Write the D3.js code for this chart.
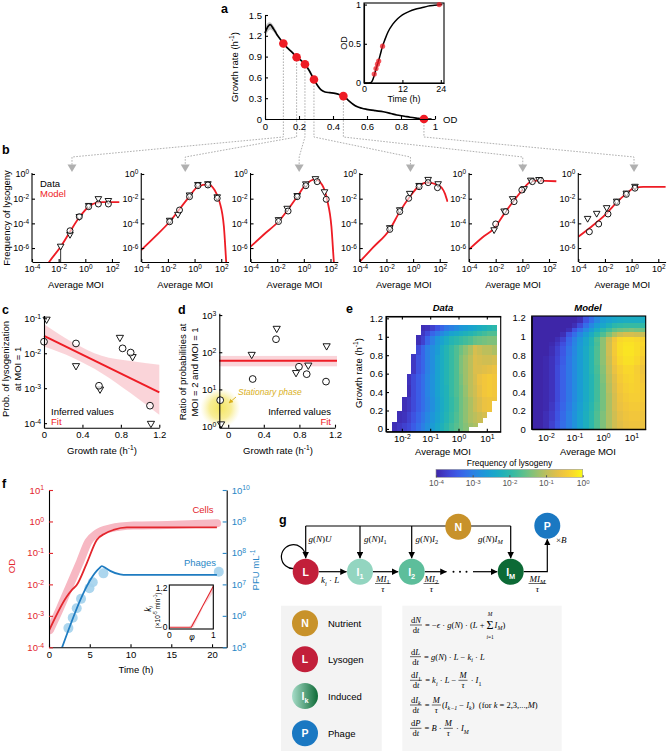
<!DOCTYPE html>
<html><head><meta charset="utf-8">
<script src="https://cdn.jsdelivr.net/npm/d3@7"></script>
<style>body{margin:0;background:#fff}svg{display:block}</style>
</head><body>
<svg id="fig" width="667" height="751"></svg>
<script>
// ================= DATA =================
// Panel a: growth rate vs OD
const aOD = [0.0,0.01,0.03,0.05,0.07,0.09,0.108,0.13,0.16,0.186,0.21,0.235,0.26,0.288,0.31,0.33,0.353,0.38,0.412,0.44,0.461,0.49,0.52,0.54,0.57,0.598,0.65,0.696,0.74,0.775,0.82,0.853,0.9,0.935,0.98];
const aGR = [1.24,1.30,1.36,1.30,1.22,1.15,1.09,1.03,0.96,0.89,0.85,0.79,0.70,0.57,0.48,0.42,0.39,0.38,0.37,0.35,0.33,0.27,0.21,0.18,0.155,0.14,0.12,0.105,0.08,0.058,0.04,0.025,0.01,0.0,0.0];
const aBandOD = [0,0.01,0.03,0.05,0.07];
const aBandHi = [1.31,1.38,1.41,1.35,1.26];
const aBandLo = [1.17,1.24,1.31,1.26,1.19];
const aPtOD = [0.108,0.186,0.235,0.288,0.461,0.935];
const aPtGR = [1.09,0.89,0.79,0.57,0.33,0.0];
const aXTicks = [0,0.2,0.4,0.6,0.8,1];
const aYTicks = [0,0.3,0.6,0.9,1.2,1.5];
// inset: OD vs time
const aInT  = [0,1,2,2.5,3,3.5,4,4.6,5.2,5.8,6.5,7.5,9,10.5,12,14,16,18,20,22,24.5];
const aInOD = [0,0,0.003,0.02,0.07,0.14,0.21,0.29,0.38,0.47,0.55,0.65,0.75,0.82,0.87,0.91,0.94,0.96,0.98,0.99,1.0];
const aInPtT  = [3.2,3.75,4.2,4.6,5.8,23.5];
const aInPtOD = [0.115,0.185,0.24,0.28,0.47,1.0];

// Panel b: log10(MOI) and log10(frequency of lysogeny), six growth phases
const bModelX = [
  [-2.9,-2.7,-1.85,-1.15,-0.45,0.25,0.85,1.3,2.55],
  [-4,-3,-1.87,-0.5,0.25,1.0,1.5,1.87,2.2,2.37,2.45],
  [-4,-3,-1.87,-1.12,-0.5,0.12,0.87,1.38,1.75,2.07,2.25,2.35],
  [-4,-3,-1.75,-1.0,-0.25,0.38,1.0,1.88,2.38,2.58],
  [-4,-3,-2.12,-1.25,-0.5,0.0,0.63,1.13,2.55],
  [-4,-3.12,-1.87,-1.12,-0.37,0.25,0.875,2.55]
];
const bModelY = [
  [-7.45,-7.11,-5.89,-4.68,-3.51,-2.65,-2.32,-2.28,-2.28],
  [-6.16,-5.12,-3.87,-1.97,-1.03,-0.84,-1.30,-2.24,-4.27,-7.1,-8.5],
  [-5.89,-4.9,-3.81,-2.78,-1.84,-0.89,-0.43,-0.89,-2.1,-4.27,-7.1,-8.5],
  [-7.11,-5.95,-4.49,-3.05,-1.84,-1.03,-0.70,-0.89,-1.57,-2.24],
  [-6.11,-5.15,-4.41,-3.05,-1.97,-1.30,-0.62,-0.54,-0.59],
  [-5.08,-4.35,-3.19,-2.30,-1.57,-1.11,-1.05,-1.05]
];
const bCircX = [
  [-1.15,-0.45,0.25,0.98,1.73],
  [-1.87,-1.13,-0.38,0.25,1.0,1.7],
  [-1.9,-1.18,-0.5,0.15,1.0,1.68],
  [-1.75,-1.0,-0.33,0.45,1.13,1.83],
  [-2.0,-1.25,-0.62,-0.04,0.75,1.38],
  [-3.17,-2.47,-1.77,-1.12,-0.4,0.25]
];
const bCircY = [
  [-4.6,-3.46,-2.65,-2.43,-2.43],
  [-3.87,-2.92,-1.84,-0.95,-0.89,-1.97],
  [-3.85,-3.0,-1.84,-0.95,-0.62,-2.05],
  [-4.49,-3.05,-1.97,-1.03,-0.70,-1.11],
  [-4.05,-3.05,-2.24,-1.30,-0.62,-0.54],
  [-4.68,-4.05,-3.24,-2.30,-1.65,-1.15]
];
const bTriX = [
  [-1.85,-1.15,-0.45,0.25,0.98,1.73],
  [-1.87,-1.25,-0.38,0.25,1.0,1.7],
  [-1.9,-1.25,-0.5,0.15,0.87,1.55],
  [-1.75,-1.0,-0.25,0.45,1.13,1.88],
  [-2.12,-1.37,-0.73,0.13,0.63,1.25],
  [-3.3,-2.62,-1.87,-1.12,-0.4,0.25]
];
const bTriY = [
  [-5.9,-4.95,-3.5,-2.6,-2.05,-2.2],
  [-3.8,-3.32,-1.75,-0.9,-0.84,-1.9],
  [-3.75,-2.83,-1.8,-0.85,-0.43,-1.49],
  [-4.4,-2.95,-1.62,-0.98,-0.49,-0.84],
  [-4.57,-3.05,-2.05,-1.24,-0.55,-0.5],
  [-3.65,-3.24,-2.78,-2.25,-1.6,-1.05]
];
const bErrX = [-1.85], bErrLo = [-7.3], bErrHi = [-5.7]; // subplot 1 error bar
const bArrowMOI = [-1.0,-0.7,-0.35,-0.2,0.03,0.18];
const bXTicks = [-4,-2,0,2];
const bYTicks = [0,-2,-4,-6];

// Panel c
const cCircGR = [0,0.333,0.572,0.818,0.902,1.103];
const cCircP  = [-1.67,-1.72,-2.93,-1.86,-1.98,-3.50];
const cTriGR  = [0.027,0.333,0.583,0.79,0.922,1.113];
const cTriP   = [-1.05,-2.38,-3.05,-1.57,-2.12,-4.03];
const cFitGR  = [0,1.2];
const cFitP   = [-1.50,-3.12];
const cBandGR = [0,0.3,0.6,0.9,1.2];
const cBandHi = [-1.17,-1.69,-2.07,-2.22,-2.33];
const cBandLo = [-1.81,-2.13,-2.57,-3.14,-3.76];

// Panel d
const dCircGR = [-0.09,0.275,0.537,0.795,0.882,1.099];
const dCircR  = [0.71,1.28,2.35,1.61,1.41,1.21];
const dTriGR  = [-0.08,0.264,0.545,0.762,0.90,1.106];
const dTriR   = [0.05,1.92,2.62,1.43,1.63,2.15];
const dFit = 1.77, dFitLo = 1.62, dFitHi = 1.90;

// Panel e: data heatmap (log10 frequency), rows by growth-rate bands, columns 1/6 decade from MOI 10^-2.5
const eDataRowEdges = [-0.03,0.03,0.07,0.12,0.19,0.31,0.35,0.48,0.60,0.70,0.81,0.92,1.02,1.07,1.13];
const eDataRowStart = [1,1,2,2,3,3,4,4,5,5,6,6,7,7];
const eDataRows = [
  [-3.9,-3.8,-3.7,-3.6,-3.4,-3.2,-3.0,-2.8,-2.6,-2.4,-2.2,-2.0,-1.8,-1.65,-1.5,-1.35],
  [-3.9,-3.8,-3.7,-3.6,-3.4,-3.2,-3.0,-2.8,-2.6,-2.4,-2.2,-2.0,-1.8,-1.65,-1.5,-1.35,-1.2,-1.1],
  [-3.9,-3.85,-3.7,-3.5,-3.3,-3.1,-2.9,-2.7,-2.5,-2.3,-2.1,-1.9,-1.7,-1.5,-1.3,-1.1,-1.0,-0.9],
  [-3.9,-3.85,-3.7,-3.5,-3.3,-3.1,-2.9,-2.7,-2.5,-2.3,-2.1,-1.9,-1.7,-1.5,-1.3,-1.1,-1.0,-0.9,-0.8],
  [-3.9,-3.8,-3.6,-3.4,-3.2,-3.0,-2.8,-2.55,-2.35,-2.15,-1.95,-1.75,-1.5,-1.3,-1.1,-0.9,-0.75,-0.6,-0.55],
  [-3.9,-3.8,-3.6,-3.4,-3.2,-3.0,-2.8,-2.55,-2.35,-2.15,-1.95,-1.75,-1.5,-1.3,-1.1,-0.9,-0.75,-0.6,-0.55,-0.55],
  [-3.9,-3.6,-3.4,-3.2,-2.95,-2.75,-2.5,-2.3,-2.15,-1.9,-1.7,-1.5,-1.25,-1.0,-0.85,-0.65,-0.5,-0.45,-0.5],
  [-3.85,-3.6,-3.4,-3.2,-2.95,-2.75,-2.5,-2.3,-2.1,-1.9,-1.7,-1.45,-1.2,-1.0,-0.8,-0.6,-0.5,-0.45,-0.5],
  [-3.8,-3.5,-3.3,-3.0,-2.8,-2.5,-2.3,-2.1,-1.9,-1.7,-1.4,-1.2,-1.0,-0.75,-0.75,-0.7,-0.65,-0.6],
  [-3.8,-3.5,-3.3,-3.0,-2.8,-2.5,-2.3,-2.1,-1.9,-1.7,-1.4,-1.2,-1.0,-0.75,-0.8,-0.85,-0.85,-0.8],
  [-3.6,-3.3,-3.0,-2.8,-2.6,-2.3,-2.1,-1.9,-1.7,-1.5,-1.3,-1.1,-0.8,-0.9,-1.0,-1.0,-1.1],
  [-3.9,-3.7,-3.3,-3.0,-2.7,-2.5,-2.3,-2.1,-2.0,-1.9,-1.8,-1.7,-1.55,-1.5,-1.45,-1.4,-1.4],
  [-3.8,-3.6,-3.3,-3.1,-2.9,-2.7,-2.5,-2.4,-2.3,-2.2,-2.1,-2.0,-1.9,-1.8,-1.7,-1.7],
  [-3.9,-3.85,-3.7,-3.5,-3.3,-3.1,-3.0,-2.85,-2.7,-2.6,-2.5,-2.4,-2.3,-2.2,-2.1,-2.0]
];
// model heatmap: columns 0.2 decade from 10^-2.5 to 10^1.5
const eModelRowEdges = [0,0.1,0.2,0.3,0.4,0.5,0.6,0.7,0.8,0.9,0.95,1.0,1.05,1.1,1.15,1.22];
const eModelRows = [
  [-4,-4,-3.9,-3.7,-3.45,-3.2,-3.0,-2.75,-2.5,-2.25,-2.0,-1.7,-1.4,-1.1,-0.85,-0.7,-0.6,-0.55,-0.55,-0.6],
  [-4,-4,-3.9,-3.75,-3.5,-3.25,-3.0,-2.75,-2.5,-2.25,-2.0,-1.7,-1.4,-1.1,-0.85,-0.65,-0.55,-0.5,-0.5,-0.55],
  [-4,-4,-3.95,-3.8,-3.55,-3.3,-3.05,-2.8,-2.55,-2.3,-2.05,-1.75,-1.45,-1.1,-0.8,-0.6,-0.5,-0.45,-0.45,-0.5],
  [-4,-4,-3.95,-3.85,-3.6,-3.35,-3.1,-2.85,-2.6,-2.35,-2.1,-1.8,-1.45,-1.1,-0.8,-0.55,-0.45,-0.4,-0.4,-0.45],
  [-4,-4,-3.95,-3.85,-3.6,-3.35,-3.1,-2.85,-2.6,-2.35,-2.1,-1.8,-1.45,-1.05,-0.75,-0.5,-0.4,-0.35,-0.38,-0.45],
  [-4,-4,-3.95,-3.85,-3.6,-3.35,-3.1,-2.85,-2.6,-2.35,-2.1,-1.8,-1.4,-1.0,-0.7,-0.45,-0.35,-0.32,-0.38,-0.5],
  [-4,-4,-3.95,-3.85,-3.6,-3.35,-3.1,-2.85,-2.6,-2.35,-2.05,-1.75,-1.35,-0.95,-0.6,-0.4,-0.3,-0.3,-0.4,-0.55],
  [-4,-4,-3.95,-3.85,-3.65,-3.4,-3.1,-2.85,-2.6,-2.35,-2.05,-1.7,-1.3,-0.9,-0.5,-0.3,-0.22,-0.22,-0.3,-0.45],
  [-4,-4,-4,-3.9,-3.7,-3.45,-3.15,-2.9,-2.6,-2.35,-2.05,-1.7,-1.3,-0.85,-0.45,-0.25,-0.18,-0.18,-0.25,-0.35],
  [-4,-4,-4,-3.95,-3.8,-3.55,-3.25,-2.95,-2.65,-2.4,-2.1,-1.75,-1.3,-0.85,-0.45,-0.25,-0.2,-0.2,-0.25,-0.3],
  [-4,-4,-4,-4,-3.9,-3.7,-3.3,-3.0,-2.7,-2.4,-2.1,-1.7,-1.3,-0.9,-0.5,-0.3,-0.25,-0.25,-0.3,-0.35],
  [-4,-4,-4,-4,-4,-3.9,-3.5,-3.2,-2.9,-2.6,-2.3,-2.0,-1.7,-1.4,-1.1,-0.9,-0.8,-0.8,-0.85,-0.9],
  [-4,-4,-4,-4,-4,-4,-3.9,-3.5,-3.2,-2.9,-2.6,-2.3,-2.0,-1.8,-1.6,-1.5,-1.45,-1.4,-1.45,-1.5],
  [-4,-4,-4,-4,-4,-4,-4,-3.9,-3.6,-3.2,-2.9,-2.6,-2.4,-2.2,-2.0,-1.95,-1.9,-1.9,-1.9,-1.95],
  [-4,-4,-4,-4,-4,-4,-4,-4,-3.9,-3.5,-3.2,-2.9,-2.6,-2.5,-2.4,-2.35,-2.3,-2.3,-2.3,-2.3]
];
const eXTicks = [-2,-1,0,1];
const eYTicks = [0,0.2,0.4,0.6,0.8,1,1.2];
const eCbTicks = [-4,-3,-2,-1,0];

// Panel f
const fCellDataT = [0.12,1.35,2.58,3.81,4.84,5.86,7.5,10.37,14.47,20.62];
const fCellDataOD = [-3.45,-2.76,-2.02,-1.28,-0.64,-0.38,-0.22,-0.13,-0.11,-0.06];
const fCellModelT = [0,2.17,2.79,3.4,4.63,5.86,6.89,7.9,9.55,20.6];
const fCellModelOD = [-3.47,-2.39,-2.18,-2.02,-1.33,-0.59,-0.38,-0.27,-0.19,-0.19];
const fPhageDataT = [2.38,2.91,3.4,3.93,4.96,5.37,6.68,20.83];
const fPhageDataP = [5.61,5.94,6.24,6.54,6.88,7.07,7.35,7.40];
const fPhageModelT = [1.5,6.15,6.48,7.0,7.5,8.73,9.55,20.6];
const fPhageModelP = [4.92,7.51,7.58,7.51,7.43,7.32,7.30,7.30];
const fInPhi = [0,0.5,1];
const fInK = [0,0,1.2];
const fInBandPhi = [0.45,1,1,0.55];
const fInBandK = [0,1.02,1.2,0];

// ================= HELPERS =================
const svg = d3.select('#fig');
const FONT = '"Liberation Sans", Arial, Helvetica, sans-serif';
const SERIF = '"Liberation Serif","Times New Roman",serif';
const RED = '#ee1c25';
svg.append('rect').attr('width',667).attr('height',751).attr('fill','#fff');
const defs = svg.append('defs');

function rtext(parent, x, y, segs, o = {}) {
  const size = o.size || 9.5;
  const t = parent.append('text').attr('font-size', size).attr('font-family', o.family || FONT)
    .attr('text-anchor', o.anchor || 'start').attr('fill', o.fill || '#000').style('white-space','pre');
  if (o.rotate) t.attr('transform', `translate(${x},${y}) rotate(${o.rotate})`); else t.attr('x', x).attr('y', y);
  if (o.weight) t.attr('font-weight', o.weight);
  if (o.style) t.attr('font-style', o.style);
  if (typeof segs === 'string') segs = [[segs, 'n']];
  let shift = 0;
  segs.forEach(([s, st]) => {
    const sp = t.append('tspan').text(s);
    let target = 0, fs = null;
    if (st.indexOf('sub') === 0) { target = 0.28 * size; fs = 0.7 * size; }
    else if (st.indexOf('sup') === 0) { target = -0.42 * size; fs = 0.7 * size; }
    if (target - shift !== 0) sp.attr('dy', target - shift);
    shift = target;
    if (fs) sp.attr('font-size', fs);
    if (st === 'i' || st === 'subi' || st === 'supi') sp.attr('font-style', 'italic');
    if (st === 'b' || st === 'subb') sp.attr('font-weight', 'bold');
  });
  return t;
}
function logLabels(g) {
  g.selectAll('.tick text').each(function (d) {
    const t = d3.select(this); t.text(null);
    t.append('tspan').text('10');
    t.append('tspan').attr('dy', '-0.45em').attr('font-size', '0.72em').text(String(d));
  });
}
function styleAxis(g, color, fs) {
  g.attr('font-family', FONT).attr('font-size', fs || 9.5);
  g.select('.domain').attr('stroke', '#000').attr('stroke-width', 1.1);
  g.selectAll('.tick line').attr('stroke', color || '#000').attr('stroke-width', 1.1);
  g.selectAll('.tick text').attr('fill', color || '#000');
}
function triPath(x, y, s) { // downward triangle
  return `M${x - s},${y - s * 0.8}L${x + s},${y - s * 0.8}L${x},${y + s * 0.95}Z`;
}
function label(x, y, s) { rtext(svg, x, y, s, { size: 12.5, weight: 'bold' }); }
const numFmt = d => d === 0 ? '0' : (Number.isInteger(d) ? String(d) : String(d));

// parula-like colour map
const parula = d3.interpolateRgbBasis(['#3e26a8','#4352ee','#2a82e6','#14a4d2','#22b9ab','#6cc383','#c0bf5a','#fcbb3d','#f9fb14']);
const pcol = v => parula(Math.max(0, Math.min(1, (v + 4) / 4)));

// ================= PANEL a =================
label(221, 13, 'a');
const aX = d3.scaleLinear().domain([0, 1]).range([265, 435]);
const aY = d3.scaleLinear().domain([0, 1.5]).range([119, 15]);
svg.append('path').datum(aBandOD.map((d, i) => i))
  .attr('d', d3.area().x(i => aX(aBandOD[i])).y0(i => aY(aBandLo[i])).y1(i => aY(aBandHi[i])).curve(d3.curveBasis))
  .attr('fill', '#b5b5b5').attr('opacity', 0.8);
const bAxisX = d3.range(6).map(i => 32 + i * 109.26);
const bXs = bAxisX.map(x0 => d3.scaleLinear().domain([-4, 2.55]).range([x0, x0 + 87.3]));
const conn = svg.append('g').attr('fill', 'none').attr('stroke', '#a6a6a6').attr('stroke-width', 0.9).attr('stroke-dasharray', '1.6,1.4');
aPtOD.forEach((od, i) => {
  const x0 = aX(od), y0 = aY(aPtGR[i]);
  const ax = bXs[i](bArrowMOI[i]);
  conn.append('path').attr('d', `M${x0},${y0}V137L${ax},157V165`);
  svg.append('path').attr('d', `M${ax - 4.5},164.5L${ax + 4.5},164.5L${ax},172Z`).attr('fill', '#b0b0b0');
});
svg.append('path').datum(aOD.map((d, i) => i))
  .attr('d', d3.line().x(i => aX(aOD[i])).y(i => aY(aGR[i])).curve(d3.curveMonotoneX))
  .attr('fill', 'none').attr('stroke', '#000').attr('stroke-width', 1.7);
svg.selectAll('.aPt').data(aPtOD).enter().append('circle')
  .attr('cx', d => aX(d)).attr('cy', (d, i) => aY(aPtGR[i])).attr('r', 4.3).attr('fill', RED);
{
  const gx = svg.append('g').attr('transform', 'translate(0,119)')
    .call(d3.axisBottom(aX).tickValues(aXTicks).tickSize(-3).tickSizeOuter(0).tickPadding(4).tickFormat(numFmt));
  styleAxis(gx);
  const gy = svg.append('g').attr('transform', 'translate(265,0)')
    .call(d3.axisLeft(aY).tickValues(aYTicks).tickSize(-3).tickSizeOuter(0).tickPadding(3)
      .tickFormat(d => d === 0 ? '0' : d.toFixed(1)));
  styleAxis(gy);
  rtext(svg, 443, 122.5, 'OD', { size: 9.5 });
  rtext(svg, 238, 67, [['Growth rate (h', 'n'], ['-1', 'sup'], [')', 'n']], { rotate: -90, anchor: 'middle' });
}
{
  const iX = d3.scaleLinear().domain([0, 25]).range([364, 444]);
  const iY = d3.scaleLinear().domain([0, 1.02]).range([83, 3]);
  svg.append('rect').attr('x', 364).attr('y', 3).attr('width', 80).attr('height', 80)
    .attr('fill', 'none').attr('stroke', '#000').attr('stroke-width', 1.1);
  svg.append('path').datum(aInT.map((d, i) => i))
    .attr('d', d3.line().x(i => iX(aInT[i])).y(i => iY(aInOD[i])).curve(d3.curveMonotoneX))
    .attr('fill', 'none').attr('stroke', '#000').attr('stroke-width', 1.5);
  svg.selectAll('.iPt').data(aInPtT).enter().append('circle')
    .attr('cx', d => iX(d)).attr('cy', (d, i) => iY(aInPtOD[i])).attr('r', 2.6)
    .attr('fill', RED).attr('opacity', 0.75);
  const gx = svg.append('g').attr('transform', 'translate(0,83)')
    .call(d3.axisBottom(iX).tickValues([0, 12, 24]).tickSize(-3).tickSizeOuter(0).tickPadding(3).tickFormat(numFmt));
  styleAxis(gx, '#000', 9);
  const gy = svg.append('g').attr('transform', 'translate(364,0)')
    .call(d3.axisLeft(iY).tickValues([0, 0.5, 1]).tickSize(-3).tickSizeOuter(0).tickPadding(3).tickFormat(numFmt));
  styleAxis(gy, '#000', 9);
  rtext(svg, 404, 102, 'Time (h)', { anchor: 'middle', size: 9 });
  rtext(svg, 347, 43, 'OD', { rotate: -90, anchor: 'middle', size: 9 });
}

// ================= PANEL b =================
label(2, 154, 'b');
const bY = d3.scaleLinear().domain([-7.13, 0.08]).range([262, 173]);
rtext(svg, 10, 218, 'Frequency of lysogeny', { rotate: -90, anchor: 'middle' });
for (let i = 0; i < 6; i++) {
  const xs = bXs[i], x0 = bAxisX[i];
  const cid = 'bclip' + i;
  defs.append('clipPath').attr('id', cid).append('rect').attr('x', x0).attr('y', 168).attr('width', 88.5).attr('height', 94);
  const g = svg.append('g');
  g.append('path').datum(bModelX[i].map((d, k) => k)).attr('clip-path', `url(#${cid})`)
    .attr('d', d3.line().x(k => xs(bModelX[i][k])).y(k => bY(bModelY[i][k])).curve(d3.curveMonotoneX))
    .attr('fill', 'none').attr('stroke', RED).attr('stroke-width', 1.8);
  if (i === 0) {
    bErrX.forEach((x, k) => g.append('line').attr('x1', xs(x)).attr('x2', xs(x))
      .attr('y1', bY(bErrHi[k])).attr('y2', Math.min(262, bY(bErrLo[k]))).attr('stroke', '#000').attr('stroke-width', 0.8));
  }
  bTriX[i].forEach((x, k) => g.append('path').attr('d', triPath(xs(x), bY(bTriY[i][k]), 3.3))
    .attr('fill', '#fff').attr('stroke', '#000').attr('stroke-width', 0.9));
  bCircX[i].forEach((x, k) => g.append('circle').attr('cx', xs(x)).attr('cy', bY(bCircY[i][k])).attr('r', 3)
    .attr('fill', '#fff').attr('fill-opacity', 0.6).attr('stroke', '#000').attr('stroke-width', 0.9));
  const gx = svg.append('g').attr('transform', 'translate(0,262)')
    .call(d3.axisBottom(xs).tickValues(bXTicks).tickSize(-3).tickSizeOuter(0).tickPadding(4));
  styleAxis(gx, '#000', 9); logLabels(gx);
  const gy = svg.append('g').attr('transform', `translate(${x0},0)`)
    .call(d3.axisLeft(bY).tickValues(bYTicks).tickSize(-3).tickSizeOuter(0).tickPadding(3));
  styleAxis(gy, '#000', 9); logLabels(gy);
  gy.select('.domain').attr('d', `M0,${bY.range()[1]}V262`);
  rtext(svg, x0 + 44, 288, 'Average MOI', { anchor: 'middle' });
}
rtext(svg, 40, 186.5, 'Data', { size: 9.5 });
rtext(svg, 40, 197, 'Model', { size: 9.5, fill: RED });

// ================= PANEL c =================
label(2, 314, 'c');
{
  const cX = d3.scaleLinear().domain([0, 1.2]).range([44, 159.3]);
  const cY = d3.scaleLinear().domain([-4.13, -0.92]).range([427.7, 315.5]);
  svg.append('path').datum(cBandGR.map((d, i) => i))
    .attr('d', d3.area().x(i => cX(cBandGR[i])).y0(i => cY(cBandLo[i])).y1(i => cY(cBandHi[i])).curve(d3.curveMonotoneX))
    .attr('fill', '#f9cdd2').attr('opacity', 0.85);
  svg.append('line').attr('x1', cX(cFitGR[0])).attr('x2', cX(cFitGR[1])).attr('y1', cY(cFitP[0])).attr('y2', cY(cFitP[1]))
    .attr('stroke', RED).attr('stroke-width', 2);
  cTriGR.forEach((x, k) => svg.append('path').attr('d', triPath(cX(x), cY(cTriP[k]), 3.6))
    .attr('fill', '#fff').attr('stroke', '#000').attr('stroke-width', 0.9));
  cCircGR.forEach((x, k) => svg.append('circle').attr('cx', cX(x)).attr('cy', cY(cCircP[k])).attr('r', 3.4)
    .attr('fill', '#fff').attr('fill-opacity', 0.7).attr('stroke', '#000').attr('stroke-width', 0.9));
  const gx = svg.append('g').attr('transform', 'translate(0,427.7)')
    .call(d3.axisBottom(cX).tickValues([0, 0.4, 0.8, 1.2]).tickSize(-3).tickSizeOuter(0).tickPadding(4)
      .tickFormat(d => d === 0 ? '0' : d.toFixed(1)));
  styleAxis(gx);
  const gy = svg.append('g').attr('transform', 'translate(44,0)')
    .call(d3.axisLeft(cY).tickValues([-1, -2, -3, -4]).tickSize(-3).tickSizeOuter(0).tickPadding(3));
  styleAxis(gy); logLabels(gy);
  rtext(svg, 102, 454, [['Growth rate (h', 'n'], ['-1', 'sup'], [')', 'n']], { anchor: 'middle' });
  rtext(svg, 9, 369, 'Prob. of lysogenization', { rotate: -90, anchor: 'middle' });
  rtext(svg, 20.5, 369, 'at MOI = 1', { rotate: -90, anchor: 'middle' });
  rtext(svg, 51, 414.5, 'Inferred values', { size: 9.5 });
  rtext(svg, 51, 425, 'Fit', { size: 9.5, fill: RED });
}

// ================= PANEL d =================
label(178, 314, 'd');
{
  const dX = d3.scaleLinear().domain([-0.1, 1.2]).range([219.3, 335]);
  const dY = d3.scaleLinear().domain([-0.03, 3.05]).range([427.7, 313.2]);
  const rg = defs.append('radialGradient').attr('id', 'glow');
  rg.append('stop').attr('offset', '0%').attr('stop-color', '#f3e34f').attr('stop-opacity', 0.9);
  rg.append('stop').attr('offset', '55%').attr('stop-color', '#f5e66a').attr('stop-opacity', 0.7);
  rg.append('stop').attr('offset', '100%').attr('stop-color', '#f8ee9a').attr('stop-opacity', 0);
  svg.append('circle').attr('cx', dX(-0.1) + 1).attr('cy', dY(0.5)).attr('r', 20).attr('fill', 'url(#glow)');
  svg.append('rect').attr('x', dX(-0.1)).attr('y', dY(dFitHi)).attr('width', dX(1.2) - dX(-0.1) + 2)
    .attr('height', dY(dFitLo) - dY(dFitHi)).attr('fill', '#f9cdd2').attr('opacity', 0.85);
  svg.append('line').attr('x1', dX(-0.1)).attr('x2', dX(1.2) + 2).attr('y1', dY(dFit)).attr('y2', dY(dFit))
    .attr('stroke', RED).attr('stroke-width', 2);
  dTriGR.forEach((x, k) => svg.append('path').attr('d', triPath(dX(x), dY(dTriR[k]), 3.6))
    .attr('fill', '#fff').attr('stroke', '#000').attr('stroke-width', 0.9));
  dCircGR.forEach((x, k) => svg.append('circle').attr('cx', dX(x)).attr('cy', dY(dCircR[k])).attr('r', 3.4)
    .attr('fill', '#fff').attr('stroke', '#000').attr('stroke-width', 0.9));
  const gx = svg.append('g').attr('transform', 'translate(0,427.7)')
    .call(d3.axisBottom(dX).tickValues([0, 0.4, 0.8, 1.2]).tickSize(-3).tickSizeOuter(0).tickPadding(4)
      .tickFormat(d => d === 0 ? '0' : d.toFixed(1)));
  styleAxis(gx);
  const gy = svg.append('g').attr('transform', `translate(${dX(-0.1)},0)`)
    .call(d3.axisLeft(dY).tickValues([0, 1, 2, 3]).tickSize(-3).tickSizeOuter(0).tickPadding(3));
  styleAxis(gy); logLabels(gy);
  rtext(svg, 278, 454, [['Growth rate (h', 'n'], ['-1', 'sup'], [')', 'n']], { anchor: 'middle' });
  rtext(svg, 186, 372, 'Ratio of probabilities at', { rotate: -90, anchor: 'middle' });
  rtext(svg, 197.5, 372, 'MOI = 2 and MOI = 1', { rotate: -90, anchor: 'middle' });
  rtext(svg, 331, 414.5, 'Inferred values', { size: 9.5, anchor: 'end' });
  rtext(svg, 331, 425, 'Fit', { size: 9.5, fill: RED, anchor: 'end' });
  rtext(svg, 238, 395, 'Stationary phase', { size: 8.5, style: 'italic', fill: '#d9b01c' });
  defs.append('marker').attr('id', 'yarr').attr('viewBox', '0 0 10 10').attr('refX', 9).attr('refY', 5)
    .attr('markerWidth', 5).attr('markerHeight', 5).attr('orient', 'auto')
    .append('path').attr('d', 'M0,0L10,5L0,10Z').attr('fill', '#d9b01c');
  svg.append('line').attr('x1', 236).attr('y1', 397).attr('x2', 229).attr('y2', 403)
    .attr('stroke', '#d9b01c').attr('stroke-width', 0.9).attr('marker-end', 'url(#yarr)');
}

// ================= PANEL e =================
rtext(svg, 346, 313, 'e', { size: 12.5, weight: 'bold' });
{
  const dX = d3.scaleLinear().domain([-2.56, 1.49]).range([386, 500.7]);
  const dY = d3.scaleLinear().domain([-0.03, 1.22]).range([431.7, 316.5]);
  const hg = svg.append('g').attr('shape-rendering', 'crispEdges');
  eDataRows.forEach((row, r) => {
    const y1 = dY(eDataRowEdges[r + 1]), y0 = dY(eDataRowEdges[r]);
    row.forEach((v, k) => {
      const c = eDataRowStart[r] + k;
      const xa = dX(-2.5 + c / 6), xb = dX(-2.5 + (c + 1) / 6);
      hg.append('rect').attr('x', xa).attr('y', y1).attr('width', xb - xa + 0.6).attr('height', y0 - y1 + 0.6).attr('fill', pcol(v));
    });
  });
  svg.append('rect').attr('x', 386).attr('y', 316.5).attr('width', 114.7).attr('height', 115.2)
    .attr('fill', 'none').attr('stroke', '#000').attr('stroke-width', 1.1);
  const gx = svg.append('g').attr('transform', 'translate(0,431.7)')
    .call(d3.axisBottom(dX).tickValues(eXTicks).tickSize(-3).tickSizeOuter(0).tickPadding(4));
  styleAxis(gx); logLabels(gx);
  const gxt = svg.append('g').attr('transform', 'translate(0,316.5)')
    .call(d3.axisTop(dX).tickValues(eXTicks).tickSize(-3).tickSizeOuter(0).tickFormat(''));
  styleAxis(gxt);
  const gy = svg.append('g').attr('transform', 'translate(386,0)')
    .call(d3.axisLeft(dY).tickValues(eYTicks).tickSize(-3).tickSizeOuter(0).tickPadding(3).tickFormat(d => d === 0 ? '0' : d === 1 ? '1' : d.toFixed(1)));
  styleAxis(gy);
  rtext(svg, 443, 455, 'Average MOI', { anchor: 'middle' });
  rtext(svg, 443, 311, 'Data', { anchor: 'middle', weight: 'bold', style: 'italic', size: 9.5 });
  rtext(svg, 362, 373, [['Growth rate (h', 'n'], ['-1', 'sup'], [')', 'n']], { rotate: -90, anchor: 'middle' });

  const mX = d3.scaleLinear().domain([-2.5, 1.5]).range([531.7, 645.7]);
  const mY = d3.scaleLinear().domain([0, 1.22]).range([429.3, 316]);
  const mg = svg.append('g').attr('shape-rendering', 'crispEdges');
  eModelRows.forEach((row, r) => {
    const y1 = mY(eModelRowEdges[r + 1]), y0 = mY(eModelRowEdges[r]);
    row.forEach((v, c) => {
      const xa = mX(-2.5 + c * 0.2), xb = mX(-2.5 + (c + 1) * 0.2);
      mg.append('rect').attr('x', xa).attr('y', y1).attr('width', xb - xa + 0.6).attr('height', y0 - y1 + 0.6).attr('fill', pcol(v));
    });
  });
  svg.append('rect').attr('x', 531.7).attr('y', 316).attr('width', 114).attr('height', 113.3)
    .attr('fill', 'none').attr('stroke', '#000').attr('stroke-width', 1.1);
  const mgx = svg.append('g').attr('transform', 'translate(0,429.3)')
    .call(d3.axisBottom(mX).tickValues(eXTicks).tickSize(0).tickSizeOuter(0).tickPadding(5));
  styleAxis(mgx); logLabels(mgx);
  const mgy = svg.append('g').attr('transform', 'translate(531.7,0)')
    .call(d3.axisLeft(mY).tickValues(eYTicks).tickSize(0).tickSizeOuter(0).tickPadding(6).tickFormat(d => d === 0 ? '0' : d === 1 ? '1' : d.toFixed(1)));
  styleAxis(mgy);
  rtext(svg, 588, 455, 'Average MOI', { anchor: 'middle' });
  rtext(svg, 588, 311, 'Model', { anchor: 'middle', weight: 'bold', style: 'italic', size: 9.5 });

  const lg = defs.append('linearGradient').attr('id', 'cbar');
  d3.range(0, 1.0001, 0.05).forEach(t => lg.append('stop').attr('offset', (t * 100) + '%').attr('stop-color', parula(t)));
  const cbX = d3.scaleLinear().domain([-4, 0]).range([436, 582.7]);
  svg.append('rect').attr('x', 436).attr('y', 469.3).attr('width', 146.7).attr('height', 8)
    .attr('fill', 'url(#cbar)').attr('stroke', '#999').attr('stroke-width', 0.6);
  const cbg = svg.append('g').attr('transform', 'translate(0,477.3)')
    .call(d3.axisBottom(cbX).tickValues(eCbTicks).tickSize(-2).tickSizeOuter(0).tickPadding(3));
  styleAxis(cbg, '#555', 8.5); logLabels(cbg);
  cbg.select('.domain').remove();
  rtext(svg, 509.5, 466, 'Frequency of lysogeny', { anchor: 'middle', size: 8.5 });
}

// ================= PANEL f =================
label(2, 488, 'f');
{
  const fX = d3.scaleLinear().domain([0, 21.8]).range([49, 226.7]);
  const fY = d3.scaleLinear().domain([-4, 1]).range([647.3, 490]);
  const fP = d3.scaleLinear().domain([5, 10]).range([647.3, 490]);
  defs.append('clipPath').attr('id', 'fclip').append('rect').attr('x', 49).attr('y', 488).attr('width', 178).attr('height', 159.3);
  const g = svg.append('g').attr('clip-path', 'url(#fclip)');
  g.append('path').datum(fCellDataT.map((d, i) => i))
    .attr('d', d3.line().x(i => fX(fCellDataT[i])).y(i => fY(fCellDataOD[i])).curve(d3.curveMonotoneX))
    .attr('fill', 'none').attr('stroke', '#f7b8c3').attr('stroke-width', 8).attr('stroke-linecap', 'round');
  g.append('path').datum(fCellModelT.map((d, i) => i))
    .attr('d', d3.line().x(i => fX(fCellModelT[i])).y(i => fY(fCellModelOD[i])).curve(d3.curveMonotoneX))
    .attr('fill', 'none').attr('stroke', '#e3262d').attr('stroke-width', 1.8);
  fPhageDataT.forEach((t, i) => g.append('circle').attr('cx', fX(t)).attr('cy', fP(fPhageDataP[i])).attr('r', 5)
    .attr('fill', '#a3d2ec').attr('opacity', 0.9));
  g.append('path').datum(fPhageModelT.map((d, i) => i))
    .attr('d', d3.line().x(i => fX(fPhageModelT[i])).y(i => fP(fPhageModelP[i])).curve(d3.curveMonotoneX))
    .attr('fill', 'none').attr('stroke', '#1f7cc1').attr('stroke-width', 1.8);
  const gx = svg.append('g').attr('transform', 'translate(0,647.3)')
    .call(d3.axisBottom(fX).tickValues([0, 5, 10, 15, 20]).tickSize(-3).tickSizeOuter(0).tickPadding(4));
  styleAxis(gx);
  const gy = svg.append('g').attr('transform', 'translate(49,0)')
    .call(d3.axisLeft(fY).tickValues([1, 0, -1, -2, -3, -4]).tickSize(-4).tickSizeOuter(0).tickPadding(5));
  styleAxis(gy, '#e3262d'); logLabels(gy);
  const gr = svg.append('g').attr('transform', 'translate(226.7,0)')
    .call(d3.axisRight(fP).tickValues([5, 6, 7, 8, 9, 10]).tickSize(-4).tickSizeOuter(0).tickPadding(5));
  styleAxis(gr, '#2a87c6'); logLabels(gr);
  rtext(svg, 136, 673, 'Time (h)', { anchor: 'middle' });
  rtext(svg, 15, 566, 'OD', { rotate: -90, anchor: 'middle', fill: '#e3262d' });
  rtext(svg, 258.5, 570, [['PFU mL', 'n'], ['-1', 'sup']], { rotate: -90, anchor: 'middle', fill: '#2a87c6' });
  rtext(svg, 203, 513, 'Cells', { anchor: 'middle', fill: '#e3262d' });
  rtext(svg, 200, 565.5, 'Phages', { anchor: 'middle', fill: '#2a87c6' });
  // inset
  const iX = d3.scaleLinear().domain([0, 1]).range([169.3, 213.3]);
  const iY = d3.scaleLinear().domain([-0.05, 1.24]).range([629, 585]);
  svg.append('rect').attr('x', 169.3).attr('y', 585).attr('width', 44).attr('height', 44).attr('fill', '#fff');
  svg.append('path').datum(fInBandPhi.map((d, i) => i))
    .attr('d', d3.line().x(i => iX(fInBandPhi[i])).y(i => iY(fInBandK[i])))
    .attr('fill', '#f9c9d0').attr('opacity', 0.8);
  svg.append('path').datum(fInPhi.map((d, i) => i))
    .attr('d', d3.line().x(i => iX(fInPhi[i])).y(i => iY(fInK[i])))
    .attr('fill', 'none').attr('stroke', '#e3262d').attr('stroke-width', 1.1);
  svg.append('rect').attr('x', 169.3).attr('y', 585).attr('width', 44).attr('height', 44)
    .attr('fill', 'none').attr('stroke', '#000').attr('stroke-width', 1.1);
  rtext(svg, 167.5, 590.5, '1.2', { anchor: 'end', size: 8.5 });
  rtext(svg, 167.5, 629.5, '0', { anchor: 'end', size: 8.5 });
  rtext(svg, 169.3, 638, '0', { anchor: 'middle', size: 8.5 });
  rtext(svg, 213.3, 638, '1', { anchor: 'middle', size: 8.5 });
  rtext(svg, 192, 640, 'φ', { anchor: 'middle', size: 8.5, style: 'italic' });
  rtext(svg, 150.5, 609, [['k', 'i'], ['i', 'subi']], { rotate: -90, anchor: 'middle', size: 8.5 });
  rtext(svg, 159.5, 610.5, [['(×10', 'n'], ['-5', 'sup'], [' min', 'n'], ['-1', 'sup'], [')', 'n']], { rotate: -90, anchor: 'middle', size: 6.5 });
}

// ================= PANEL g =================
label(279, 524, 'g');
{
  const G = svg.append('g');
  defs.append('marker').attr('id', 'arr').attr('viewBox', '0 0 10 10').attr('refX', 9.5).attr('refY', 5)
    .attr('markerWidth', 5.5).attr('markerHeight', 5.5).attr('orient', 'auto').attr('markerUnits', 'strokeWidth')
    .append('path').attr('d', 'M0,0L10,5L0,10Z').attr('fill', '#000');
  const R = 13, cy = 571.7;
  const nodes = [
    { t: [['N', 'b']], x: 458.3, y: 526.7, c: '#c8922a' },
    { t: [['P', 'b']], x: 547.3, y: 525.7, c: '#1a78c2' },
    { t: [['L', 'b']], x: 305.7, y: cy, c: '#c21f3a' },
    { t: [['I', 'b'], ['1', 'subb']], x: 360, y: cy, c: '#93d5c0' },
    { t: [['I', 'b'], ['2', 'subb']], x: 411.7, y: cy, c: '#5dbe9b' },
    { t: [['I', 'b'], ['M', 'subb']], x: 510.7, y: cy, c: '#0d6a36' }
  ];
  const line = (d, me) => G.append('path').attr('d', d).attr('fill', 'none').attr('stroke', '#000').attr('stroke-width', 1.2)
    .attr('marker-end', me ? 'url(#arr)' : null);
  line('M305.7,526H510.7');
  [305.7, 360, 411.7, 510.7].forEach(x => line(`M${x},526V${cy - R - 0.5}`, true));
  line('M294,568.7A12,12 0 1 1 305.2,554.5');
  line(`M${305.7 + R},${cy}H${360 - R - 0.5}`, true);
  line(`M${360 + R},${cy}H${411.7 - R - 0.5}`, true);
  line(`M${411.7 + R},${cy}H446.5`, true);
  [453.5, 460, 466.5].forEach(x => G.append('circle').attr('cx', x).attr('cy', cy).attr('r', 1).attr('fill', '#000'));
  line(`M473,${cy}H${510.7 - R - 0.5}`, true);
  line(`M${510.7 + R},${cy}H547.3V${525.7 + R + 0.5}`, true);
  nodes.forEach(n => {
    G.append('circle').attr('cx', n.x).attr('cy', n.y).attr('r', R).attr('fill', n.c);
    rtext(G, n.x, n.y + 4, n.t, { anchor: 'middle', fill: '#fff', size: 10.5, weight: 'bold' });
  });
  const m = (x, y, segs, o = {}) => rtext(G, x, y, segs, Object.assign({ family: SERIF, size: 9 }, o));
  m(308.5, 541.5, [['g', 'i'], ['(', 'n'], ['N', 'i'], [')', 'n'], ['U', 'i']]);
  m(364, 541.5, [['g', 'i'], ['(', 'n'], ['N', 'i'], [')', 'n'], ['I', 'i'], ['1', 'sub']]);
  m(415.5, 541.5, [['g', 'i'], ['(', 'n'], ['N', 'i'], [')', 'n'], ['I', 'i'], ['2', 'sub']]);
  m(478, 541.5, [['g', 'i'], ['(', 'n'], ['N', 'i'], [')', 'n'], ['I', 'i'], ['M', 'subi']]);
  m(556, 543, [['×', 'n'], ['B', 'i']]);
  m(321, 583, [['k', 'i'], ['i', 'subi'], [' · ', 'n'], ['L', 'i']]);

  function frac(parent, x, ay, num, den, size) {
    const n = rtext(parent, 0, ay - 2, num, { family: SERIF, size, anchor: 'middle' });
    const d = rtext(parent, 0, ay + size * 0.95, den, { family: SERIF, size, anchor: 'middle' });
    const w = Math.max(n.node().getComputedTextLength(), d.node().getComputedTextLength()) + 2;
    n.attr('x', x + w / 2); d.attr('x', x + w / 2);
    parent.append('line').attr('x1', x).attr('x2', x + w).attr('y1', ay).attr('y2', ay).attr('stroke', '#000').attr('stroke-width', 0.6);
    return w;
  }
  const tau = [['τ', 'i']];
  frac(G, 375, 583.5, [['M', 'i'], ['I', 'i'], ['1', 'sub']], tau, 9);
  frac(G, 423.5, 583.5, [['M', 'i'], ['I', 'i'], ['2', 'sub']], tau, 9);
  frac(G, 528.5, 583.5, [['M', 'i'], ['I', 'i'], ['M', 'subi']], tau, 9);

  G.append('rect').attr('x', 281).attr('y', 605.7).attr('width', 100.7).attr('height', 145.3).attr('fill', '#f3f3f3');
  const gradK = defs.append('linearGradient').attr('id', 'ik');
  gradK.append('stop').attr('offset', '0%').attr('stop-color', '#a8ddc9');
  gradK.append('stop').attr('offset', '100%').attr('stop-color', '#0d6a36');
  const leg = [
    { t: [['N', 'b']], c: '#c8922a', y: 623.3, s: 'Nutrient' },
    { t: [['L', 'b']], c: '#c21f3a', y: 659.3, s: 'Lysogen' },
    { t: [['I', 'b'], ['k', 'subb']], c: 'url(#ik)', y: 696, s: 'Induced' },
    { t: [['P', 'b']], c: '#1a78c2', y: 733.3, s: 'Phage' }
  ];
  leg.forEach(l => {
    G.append('circle').attr('cx', 305).attr('cy', l.y).attr('r', R).attr('fill', l.c);
    rtext(G, 305, l.y + 4, l.t, { anchor: 'middle', fill: '#fff', size: 10.5, weight: 'bold' });
    rtext(G, 328, l.y + 3.5, l.s, { size: 9.5 });
  });
  G.append('rect').attr('x', 402.3).attr('y', 605.7).attr('width', 159.4).attr('height', 145.3).attr('fill', '#f5f5f5');
  const ES = 8.5;
  function eq(x, ay, items) {
    let cx = x;
    items.forEach(it => {
      if (it.f) { cx += frac(G, cx, ay, it.f[0], it.f[1], ES) + 1; }
      else if (it.sum) {
        const s = rtext(G, cx, ay + 4.2, 'Σ', { family: SERIF, size: 12 });
        const w = s.node().getComputedTextLength();
        rtext(G, cx + w / 2, ay - 8.7, [['M', 'i']], { family: SERIF, size: 5.5, anchor: 'middle' });
        rtext(G, cx + w / 2, ay + 13.5, [['i', 'i'], ['=1', 'n']], { family: SERIF, size: 5.5, anchor: 'middle' });
        cx += w + 1;
      } else {
        const t = rtext(G, cx, ay + 2.9, it.t, { family: SERIF, size: ES });
        cx += t.node().getComputedTextLength();
      }
    });
  }
  const d_ = v => [['d', 'n']].concat(v);
  const Mt = [[['M', 'i']], [['τ', 'i']]];
  eq(410, 625, [{ f: [d_([['N', 'i']]), d_([['t', 'i']])] },
    { t: [[' = −', 'n'], ['ϵ', 'i'], [' · ', 'n'], ['g', 'i'], ['(', 'n'], ['N', 'i'], [') · (', 'n'], ['L', 'i'], [' + ', 'n']] },
    { sum: true }, { t: [['I', 'i'], ['M', 'subi'], [')', 'n']] }]);
  eq(410, 656.7, [{ f: [d_([['L', 'i']]), d_([['t', 'i']])] },
    { t: [[' = ', 'n'], ['g', 'i'], ['(', 'n'], ['N', 'i'], [') · ', 'n'], ['L', 'i'], [' − ', 'n'], ['k', 'i'], ['i', 'subi'], [' · ', 'n'], ['L', 'i']] }]);
  eq(410, 680.3, [{ f: [d_([['I', 'i'], ['1', 'sub']]), d_([['t', 'i']])] },
    { t: [[' = ', 'n'], ['k', 'i'], ['i', 'subi'], [' · ', 'n'], ['L', 'i'], [' − ', 'n']] }, { f: Mt },
    { t: [[' · ', 'n'], ['I', 'i'], ['1', 'sub']] }]);
  eq(410, 705, [{ f: [d_([['I', 'i'], ['k', 'subi']]), d_([['t', 'i']])] },
    { t: [[' = ', 'n']] }, { f: Mt },
    { t: [['(', 'n'], ['I', 'i'], ['k−1', 'subi'], [' − ', 'n'], ['I', 'i'], ['k', 'subi'], [')  (for ', 'n'], ['k', 'i'], [' = 2,3,...,', 'n'], ['M', 'i'], [')', 'n']] }]);
  eq(410, 728.3, [{ f: [d_([['P', 'i']]), d_([['t', 'i']])] },
    { t: [[' = ', 'n'], ['B', 'i'], [' · ', 'n']] }, { f: Mt },
    { t: [[' · ', 'n'], ['I', 'i'], ['M', 'subi']] }]);
}
</script>
</body></html>
